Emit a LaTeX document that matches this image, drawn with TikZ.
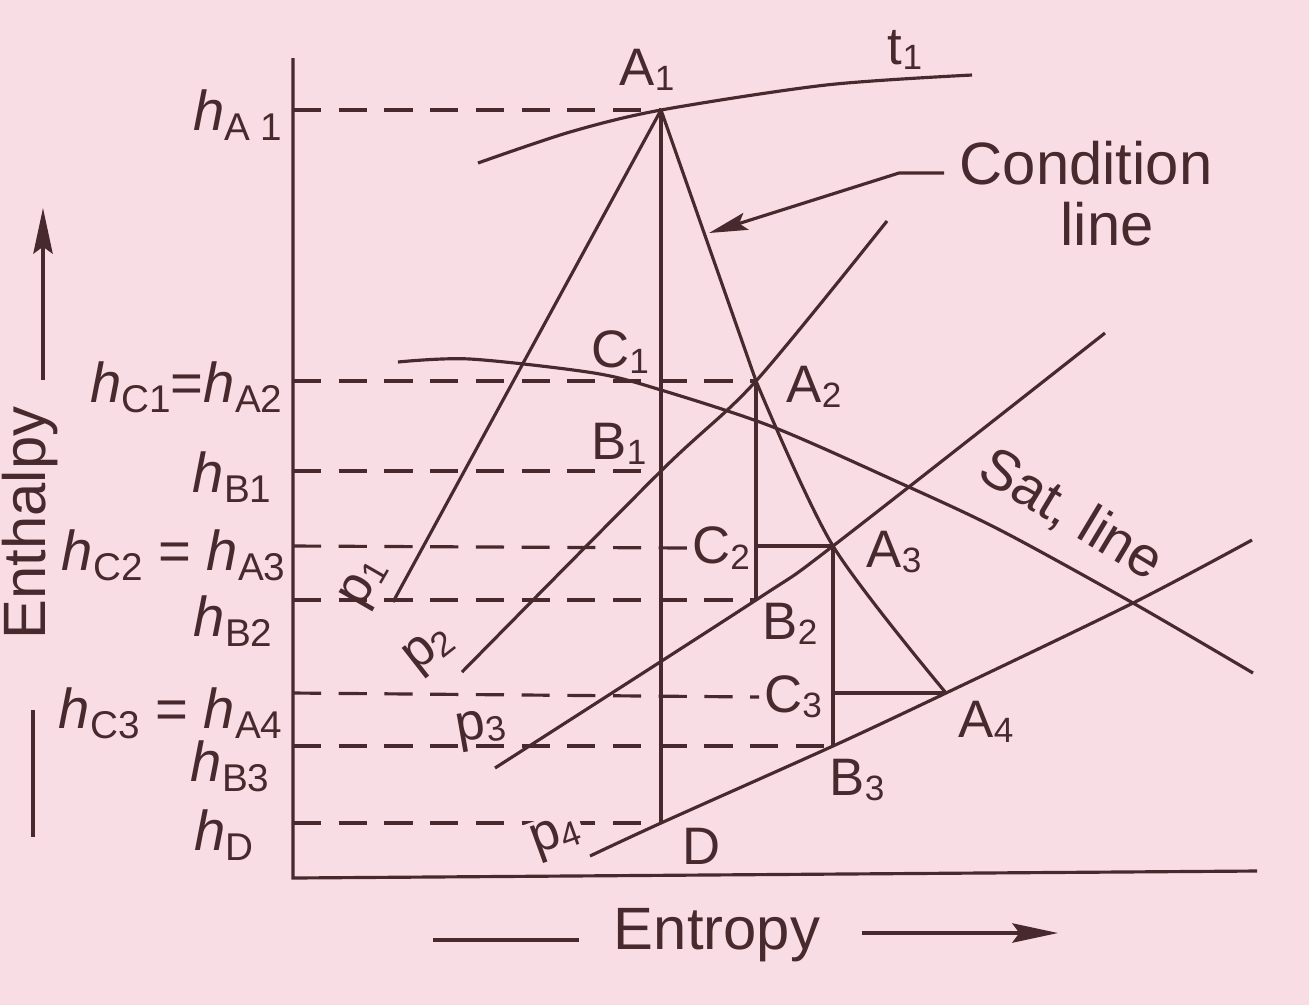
\documentclass[tikz,border=0pt]{standalone}
\usepackage{fontspec}
\setmainfont{Liberation Sans}
\usetikzlibrary{arrows.meta}
\definecolor{bg}{RGB}{248,222,228}
\definecolor{ink}{RGB}{72,42,46}
\newcommand\fs[1]{\fontsize{#1}{#1}\selectfont}
\newcommand\lsub[1]{\raisebox{-1.5pt}{\fs{10}#1}}
\newcommand\hsub[1]{\raisebox{-3pt}{\fs{11}#1}}
\newcommand\hv{\textit{h}}
\begin{document}
\begin{tikzpicture}[x=0.01cm,y=-0.01cm,line width=0.9pt,color=ink,
  pt/.style={font=\fs{15},inner sep=1pt},
  hlab/.style={font=\fs{16},anchor=base east,inner sep=0pt},
  plab/.style={font=\fs{15},inner sep=1pt},
  big/.style={font=\fs{17},inner sep=1pt},
  dsh/.style={dash pattern=on 8pt off 5pt},
  arr/.style={-{Stealth[length=13pt,width=5.5pt,inset=2pt]}}]
\fill[bg] (0,0) rectangle (1309,1005);
\useasboundingbox (0,0) rectangle (1309,1005);

% key points
\coordinate (A1) at (661,110);
\coordinate (A2) at (756,381);
\coordinate (A3) at (833,546);
\coordinate (A4) at (946,693);
\coordinate (B1) at (661,471);
\coordinate (B2) at (756,600);
\coordinate (B3) at (833,746);
\coordinate (D) at (661,823);
\coordinate (C2s) at (756,546);
\coordinate (C3s) at (833,693);
\coordinate (P1) at (393,602);
\coordinate (O) at (293,878);
\coordinate (Ytop) at (293,58);
\coordinate (Xend) at (1257,871);

% axes
\draw (Ytop) -- (O) -- (Xend);

% labels of points
\node[pt] (lA1) at (647,70) {A\lsub{1}};
\node[pt] (lt1) at (905,50) {t\lsub{1}};
\node[pt] (lC1) at (620,352) {C\lsub{1}};
\node[pt] (lB1) at (619,444) {B\lsub{1}};
\node[pt] (lA2) at (814,387) {A\lsub{2}};
\node[pt,fill=bg] (lC2) at (721,548) {C\lsub{2}};
\node[pt] (lA3) at (894,552) {A\lsub{3}};
\node[pt] (lB2) at (790,624) {B\lsub{2}};
\node[pt,fill=bg] (lC3) at (793,697) {C\lsub{3}};
\node[pt] (lA4) at (986,722) {A\lsub{4}};
\node[pt] (lB3) at (857,780) {B\lsub{3}};
\node[pt] (lD) at (702,846) {D};

% enthalpy labels
\node[hlab] (hA1) at (284,130) {\hv\hsub{A\hspace{3pt}1}};
\node[hlab] (hC1) at (284,402) {\hv\hsub{C1}=\hv\hsub{A2}};
\node[hlab] (hB1) at (273,492) {\hv\hsub{B1}};
\node[hlab] (hC2) at (287,570) {\hv\hsub{C2} = \hv\hsub{A3}};
\node[hlab] (hB2) at (274,636) {\hv\hsub{B2}};
\node[hlab] (hC3) at (284,728) {\hv\hsub{C3} = \hv\hsub{A4}};
\node[hlab] (hB3) at (271,781) {\hv\hsub{B3}};
\node[hlab] (hD) at (255,850) {\hv\hsub{D}};

% dashed enthalpy levels
\draw[dsh] (Ytop |- A1) -- (A1);
\draw[dsh] (Ytop |- A2) -- (A2);
\draw[dsh] (Ytop |- B1) -- (B1);
\draw[dsh] (Ytop |- A3) -- (lC2.west);
\draw[dsh] (Ytop |- B2) -- (B2);
\draw[dsh] (Ytop |- A4) -- (lC3.west);
\draw[dsh] (Ytop |- B3) -- (B3);
\draw[dsh] (Ytop |- D) -- (D);

% solid horizontals and verticals
\draw (C2s) -- (A3);
\draw (C3s) -- (A4);
\draw (A1) -- (D);
\draw (A2) -- (B2);
\draw (A3) -- (B3);

% pressure lines
\draw (P1) -- (A1);
\draw plot[smooth] coordinates {(462,672) (B1) (A2) (887,221)};
\draw plot[smooth] coordinates {(495,768) (B2) (A3) (1105,333)};
\draw plot[smooth] coordinates {(590,856) (D) (B3) (A4) (1133,603) (1252,540)};

% t1 line
\draw plot[smooth] coordinates {(478,163) (570,132) (A1) (826,85) (972,75)};

% saturation line
\draw plot[smooth] coordinates {(398,362) (470,359) (594,373) (661,390) (773,427) (900,483) (1000,530) (1133,603) (1253,673)};

% condition line
\draw (A1) -- (A2);
\draw plot[smooth] coordinates {(A2) (A3) (A4)};

% pressure labels
\node[plab,rotate=60] (lp1) at (366,584) {p\lsub{1}};
\node[plab,rotate=38] (lp2) at (430,651) {p\lsub{2}};
\node[plab,rotate=10] (lp3) at (481,730) {p\lsub{3}};
\node[plab,rotate=20,fill=bg] (lp4) at (556,838) {p\lsub{4}};

% saturation label
\node[font=\fs{16},rotate=-31] (lsat) at (1071,515) {Sat, line};

% condition line callout
\node[big] (lCond) at (1086,163) {Condition};
\node[big] (lLine) at (1107,224) {line};
\coordinate (L1) at (944,173);
\coordinate (L2) at (899,173);
\coordinate (Ltip) at (709,233);
\draw[-{Stealth[length=11pt,width=5pt,inset=2pt]}] (L1) -- (L2) -- (Ltip);

% axis titles
\node[big,rotate=90] (lEnth) at (30,523) {Enthalpy};
\coordinate (ea1) at (43,380);
\coordinate (ea2) at (43,208);
\draw[arr] (ea1) -- (ea2);
\coordinate (et1) at (33,710);
\coordinate (et2) at (33,837);
\draw (et1) -- (et2);

\node[big] (lEntr) at (717,935) {Entropy};
\coordinate (xa1) at (433,940);
\coordinate (xa2) at (579,940);
\draw (xa1) -- (xa2);
\coordinate (xb1) at (862,933);
\coordinate (xb2) at (1058,933);
\draw[arr] (xb1) -- (xb2);
\end{tikzpicture}
\end{document}
